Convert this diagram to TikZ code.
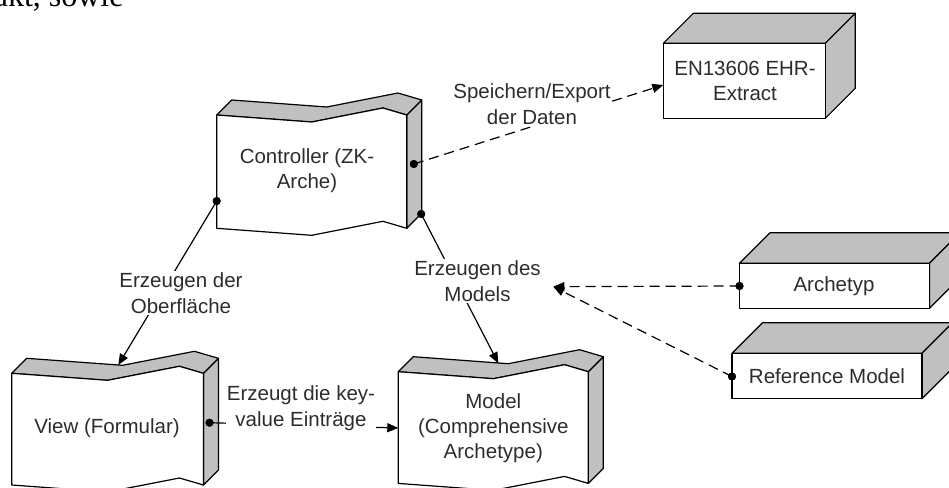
\documentclass[tikz,border=0pt]{standalone}
\usepackage{fontspec}
\setmainfont{Liberation Sans}
\newfontfamily\bodyserif{Liberation Serif}
\usetikzlibrary{arrows.meta}

\definecolor{shade3d}{RGB}{192,192,192}
\definecolor{ink}{RGB}{45,45,45}

\tikzset{
  outline/.style={draw=black, line width=1.2pt, line join=round},
  sideface/.style={outline, fill=shade3d},
  frontface/.style={outline, fill=white},
  facetext/.style={align=center, text=ink, inner sep=0pt,
    font=\fontsize{20.5}{25}\selectfont},
  edgelabel/.style={align=center, text=ink, fill=white, inner sep=1pt,
    font=\fontsize{20.5}{26}\selectfont},
  link/.style={draw=black, line width=1.2pt},
  dashedlink/.style={link, dash pattern=on 10pt off 6pt},
  tip/.style={-{Triangle[length=11pt,width=9pt]}},
  port/.style={circle, fill=black, inner sep=0pt, minimum size=8pt},
}

% curved-sheet block: x, y of front top-left corner, width, height
\newcommand\waveshape[4]{%
  \begin{scope}[shift={(#1,#2)}]
    \path[sideface] (#3,0) -- ++(15,-15) -- ++(0,#4) -- (#3,#4) -- cycle;
    \path[sideface] (0,0) -- (0.5*#3,7) -- (0.875*#3,-7) -- (#3,0)
      -- (#3+15,-15) -- (0.875*#3+15,-22) -- (0.5*#3+15,-8) -- (15,-15) -- cycle;
    \path[frontface] (0,0) -- (0.5*#3,7) -- (0.875*#3,-7) -- (#3,0)
      -- (#3,#4) -- (0.875*#3,#4-7) -- (0.5*#3,#4+7) -- (0,#4) -- cycle;
  \end{scope}}

% box block: x, y of front top-left corner, width, height, depth
\newcommand\boxshape[5]{%
  \begin{scope}[shift={(#1,#2)}]
    \path[sideface] (0,0) -- ++(#5,-#5) -- ++(#3,0) -- (#3,0) -- cycle;
    \path[sideface] (#3,0) -- ++(#5,-#5) -- ++(0,#4) -- (#3,#4) -- cycle;
    \path[frontface] (0,0) rectangle (#3,#4);
  \end{scope}}

\begin{document}
\begin{tikzpicture}[x=1pt, y=-1pt]
  \useasboundingbox (0,0) rectangle (949,487);
  \clip (0,0) rectangle (949,487);

  % running text of the surrounding page
  \node[anchor=base west, inner sep=0pt, font=\bodyserif\fontsize{32}{36}\selectfont]
    (pagetext) at (-6.4,6.7) {akt, sowie};

  % blocks
  \waveshape{216.7}{115}{190}{113.3}
  \node[facetext] (ctrl) at (307,171) {Controller (ZK-\\Arche)};

  \waveshape{11.7}{373.3}{191.7}{111.7}
  \node[facetext] (view) at (107,428) {View (Formular)};

  \waveshape{398.3}{371.7}{190}{111.7}
  \node[facetext] (model) at (493.3,428) {Model\\(Comprehensive\\Archetype)};

  \boxshape{663.3}{43.3}{162}{75}{30}
  \node[facetext] (ehr) at (745,81) {EN13606 EHR-\\Extract};

  \boxshape{739.5}{263.3}{190}{45}{30.5}
  \node[facetext] (arch) at (834,286) {Archetyp};

  \boxshape{732}{353.3}{190}{45.5}{30.5}
  \node[facetext] (refm) at (827,376.5) {Reference Model};

  % connector ports
  \node[port] (p-export) at (413.8,164) {};
  \node[port] (p-view)   at (216.7,201) {};
  \node[port] (p-model)  at (421.2,214) {};
  \node[port] (p-kv)     at (209.5,422.7) {};
  \node[port] (p-arch)   at (739.5,286) {};
  \node[port] (p-refm)   at (732,376.5) {};
  \coordinate (t-ehr)   at (663.3,85);
  \coordinate (t-view)  at (118.3,365);
  \coordinate (t-model) at (498.3,363.3);
  \coordinate (t-kv)    at (398.3,428);
  \coordinate (t-merge) at (553.3,286.7);

  % connectors
  \draw[dashedlink, tip] (p-export.center) -- (t-ehr);
  \draw[link, tip] (p-view.center) -- (t-view);
  \draw[link, tip] (p-model.center) -- (t-model);
  \draw[link, tip] (p-kv.center) -- (t-kv);
  \draw[dashedlink, tip] (p-arch.center) -- (t-merge);
  \draw[dashedlink, tip] (p-refm.center) -- (t-merge);

  % connector labels
  \node[edgelabel] (l-export) at (532,104) {Speichern/Export\\der Daten};
  \node[edgelabel] (l-view)   at (181,293) {Erzeugen der\\Oberfläche};
  \node[edgelabel] (l-model)  at (477.5,281) {Erzeugen des\\Models};
  \node[edgelabel] (l-kv)     at (301,408) {Erzeugt die key-\\value Einträge};

  % ports drawn again above the line ends
  \foreach \p in {p-export,p-view,p-model,p-kv,p-arch,p-refm}
    \fill (\p) circle (4pt);
\end{tikzpicture}
\end{document}
